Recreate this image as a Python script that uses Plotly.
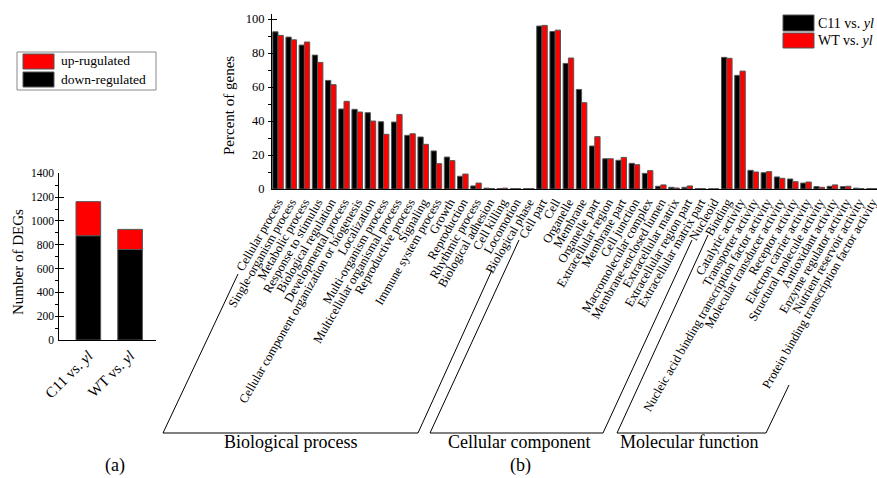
import plotly.graph_objects as go

# ---------------- data ----------------
deg_groups = ["C11 vs. <i>yl</i>", "WT vs. <i>yl</i>"]
down_regulated = [876, 760]
up_regulated = [286, 169]

bp_labels = ["Cellular process", "Single-organism process", "Metabolic process",
             "Response to stimulus", "Biological regulation", "Developmental process",
             "Cellular component organization or biogenesis", "Localization",
             "Multi-organism process", "Multicellular organismal process",
             "Reproductive process", "Signaling", "Immune system process", "Growth",
             "Reproduction", "Rhythmic process", "Biological adhesion", "Cell killing",
             "Locomotion", "Biological phase"]
cc_labels = ["Cell part", "Cell", "Organelle", "Membrane", "Organelle part",
             "Extracellular region", "Membrane part", "Cell junction",
             "Macromolecular complex", "Membrane-enclosed lumen", "Extracellular matrix",
             "Extracellular region part", "Extracellular matrix part", "Nucleoid"]
mf_labels = ["Binding", "Catalytic activity", "Transporter activity",
             "Nucleic acid binding transcription factor activity",
             "Molecular transducer activity", "Receptor activity",
             "Electron carrier activity", "Structural molecule activity",
             "Antioxidant activity", "Enzyme regulator activity",
             "Nutrient reservoir activity", "Protein binding transcription factor activity"]

c11_bp = [92.5, 89.4, 84.7, 78.8, 63.9, 47.1, 46.9, 44.9, 39.6, 39.4,
          31.6, 30.6, 22.4, 18.8, 7.5, 1.8, 0.5, 0.3, 0.2, 0.2]
wt_bp = [90.4, 87.8, 86.5, 74.5, 61.4, 51.6, 45.3, 40.0, 32.2, 43.9,
         32.5, 26.3, 14.9, 16.7, 8.8, 3.5, 0.3, 0.5, 0.2, 0.2]
c11_cc = [95.9, 92.7, 73.9, 58.6, 25.3, 17.8, 16.9, 15.1, 9.2, 1.6, 1.0, 1.0, 0.2, 0.1]
wt_cc = [96.3, 93.5, 77.1, 50.8, 30.8, 17.8, 18.6, 14.3, 10.8, 2.4, 0.6, 1.8, 0.2, 0.1]
c11_mf = [77.5, 66.9, 11.0, 9.6, 7.1, 5.9, 3.5, 1.4, 1.6, 1.4, 0.5, 0.3]
wt_mf = [76.9, 69.4, 10.0, 10.2, 6.3, 4.3, 4.1, 1.0, 2.4, 1.6, 0.3, 0.2]

categories = bp_labels + cc_labels + mf_labels
c11_values = c11_bp + c11_cc + c11_mf
wt_values = wt_bp + wt_cc + wt_mf

# ---------------- helpers (pixel -> paper) ----------------
W, H = 877, 478
def px(x):
    return x / W
def py(y):
    return 1 - y / H

FONT = "Liberation Serif, Times New Roman, serif"
EDGE = "#555555"

fig = go.Figure()

# Panel (a): stacked DEG counts
fig.add_trace(go.Bar(x=deg_groups, y=down_regulated, xaxis="x", yaxis="y",
                     marker=dict(color="black", line=dict(color=EDGE, width=1)),
                     offset=-0.295, width=0.59, showlegend=False))
fig.add_trace(go.Bar(x=deg_groups, y=up_regulated, base=down_regulated,
                     xaxis="x", yaxis="y",
                     marker=dict(color="red", line=dict(color=EDGE, width=1)),
                     offset=-0.295, width=0.59, showlegend=False))

# Panel (b): GO percentages
fig.add_trace(go.Bar(x=categories, y=c11_values, xaxis="x2", yaxis="y2",
                     marker=dict(color="black", line=dict(color=EDGE, width=1)),
                     showlegend=False))
fig.add_trace(go.Bar(x=categories, y=wt_values, xaxis="x2", yaxis="y2",
                     marker=dict(color="red", line=dict(color=EDGE, width=1)),
                     showlegend=False))

axis_common = dict(showline=True, linecolor="black", linewidth=1, showgrid=False,
                   zeroline=False, automargin=False, color="black")

fig.update_layout(
    template="none",
    width=W, height=H,
    margin=dict(l=0, r=0, t=0, b=0),
    paper_bgcolor="white", plot_bgcolor="white",
    font=dict(family=FONT, color="black"),
    barmode="group", bargap=0.2, bargroupgap=0.0,
    showlegend=False,
    xaxis=dict(domain=[px(59.3), px(156)], type="category", range=[-0.695, 1.62],
               ticks="", tickangle=-45, tickfont=dict(size=15, family=FONT),
               tickmode="linear", tick0=0, dtick=1,
               anchor="y", **axis_common),
    yaxis=dict(domain=[py(340), py(173.3)], range=[0, 1400], dtick=200,
               ticks="inside", ticklen=5, tickcolor="black",
               minor=dict(ticks="outside", ticklen=3, dtick=100, tickcolor="black"),
               tickfont=dict(size=11.5, family=FONT), ticklabelstandoff=2,
               anchor="x", **axis_common),
    xaxis2=dict(domain=[px(272), 1.0], type="category", range=[-0.455, 45.38],
                ticks="", tickangle=-60, tickfont=dict(size=12.5, family=FONT),
                tickmode="linear", tick0=0, dtick=1,
                anchor="y2", **axis_common),
    yaxis2=dict(domain=[py(189), py(14)], range=[0, 103], dtick=20,
                ticks="inside", ticklen=5, tickcolor="black",
                minor=dict(ticks="outside", ticklen=3, dtick=10, tickcolor="black"),
                tickfont=dict(size=12.5, family=FONT), ticklabelstandoff=4,
                anchor="x2", **axis_common),
)

shapes = []
annotations = []

def rect(x0, y0, x1, y1, fill, line=EDGE):
    shapes.append(dict(type="rect", xref="paper", yref="paper",
                       x0=px(x0), x1=px(x1), y0=py(y1), y1=py(y0),
                       fillcolor=fill, line=dict(color=line, width=1)))

def line(x0, y0, x1, y1):
    shapes.append(dict(type="line", xref="paper", yref="paper",
                       x0=px(x0), y0=py(y0), x1=px(x1), y1=py(y1),
                       line=dict(color="black", width=1)))

def text(x, y, s, size, anchor="center", angle=0):
    annotations.append(dict(x=px(x), y=py(y), xref="paper", yref="paper", text=s,
                            showarrow=False, xanchor=anchor, yanchor="middle",
                            textangle=angle, font=dict(size=size, family=FONT, color="black")))

# legend of panel (a)
rect(17, 52, 156, 90, "rgba(0,0,0,0)", line="#888888")
rect(23, 54, 54, 69, "red")
rect(23, 72, 54, 87, "black")
text(59, 61, "up-rugulated", 13.5, anchor="left")
text(59, 79, "down-regulated", 13.5, anchor="left")

# legend of panel (b)
rect(783, 15, 814, 31, "black")
rect(783, 33, 814, 48, "red")
text(816, 23, "C11 vs. <i>yl</i>", 14, anchor="left")
text(816, 41, "WT vs. <i>yl</i>", 14, anchor="left")

# axis titles
text(18, 262, "Number of DEGs", 15, angle=-90)
text(229, 106, "Percent of genes", 15, angle=-90)

# group brackets
line(163, 433, 418, 433)
line(163, 433, 238, 274)
line(418, 433, 492, 270)
line(430, 433, 603, 433)
line(430, 433, 519, 240)
line(603, 433, 692, 240)
line(617, 433, 766, 433)
line(617, 433, 708, 235)
line(766, 433, 789, 385)

text(290, 442, "Biological process", 18)
text(519, 442, "Cellular component", 18)
text(689, 442, "Molecular function", 18)
text(115, 465, "(a)", 18)
text(520, 465, "(b)", 18)

fig.update_layout(shapes=shapes, annotations=annotations)

fig.write_html("out.html",
               config={"displayModeBar": False, "staticPlot": True},
               post_script="document.body.style.margin='0px';document.body.style.padding='0px';")
